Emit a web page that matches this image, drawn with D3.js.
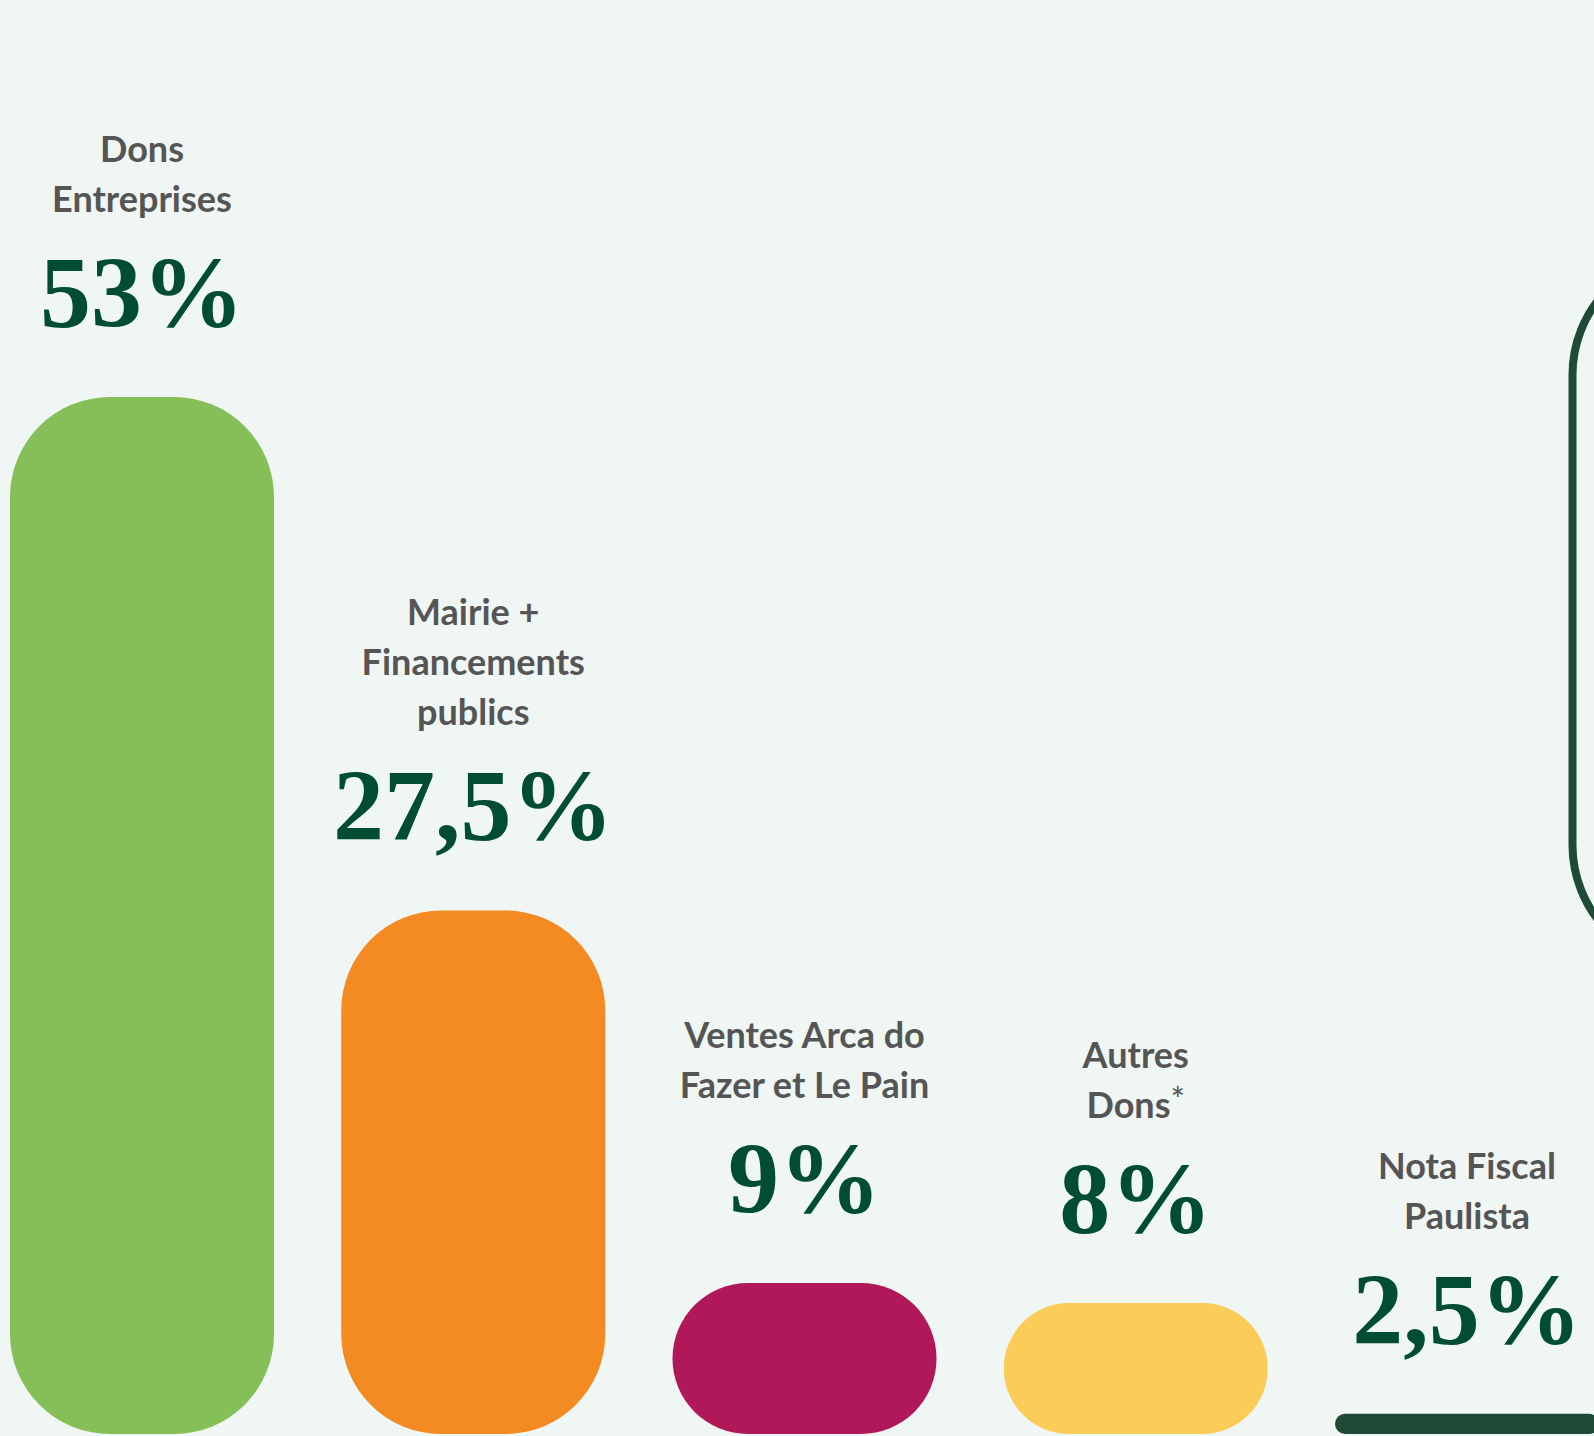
<!DOCTYPE html>
<html>
<head>
<meta charset="utf-8">
<script src="https://cdn.jsdelivr.net/npm/d3@7"></script>
<style>
  html, body { margin: 0; padding: 0; background: #eff6f3; }
  svg { display: block; }
</style>
</head>
<body>
<svg id="chart" width="1594" height="1436"></svg>
<script>
// ---- data ----
const categories = ["Dons Entreprises", "Mairie + Financements publics", "Ventes Arca do Fazer et Le Pain", "Autres Dons*", "Nota Fiscal Paulista"];
const labelLines = [
  ["Dons", "Entreprises"],
  ["Mairie +", "Financements", "publics"],
  ["Ventes Arca do", "Fazer et Le Pain"],
  ["Autres", "Dons*"],
  ["Nota Fiscal", "Paulista"]
];
const values = [53, 27.5, 9, 8, 2.5];
const valueLabels = ["53%", "27,5%", "9%", "8%", "2,5%"];

// ---- styles ----
const colors = ["#86bf57", "#f38a22", "#b0185a", "#fbcc58", "#1e4a36"];
const W = 1594, H = 1436;
const baseline = 1434, topY = 397;

const svg = d3.select("#chart");
svg.append("rect").attr("width", W).attr("height", H).attr("fill", "#eff6f3");

const x = d3.scaleBand()
  .domain(categories)
  .range([10, 1599])
  .paddingInner(0.203)
  .paddingOuter(0);

const y = d3.scaleLinear()
  .domain([1.5, 53])
  .range([baseline, topY]);

const data = categories.map((c, i) => ({ c, v: values[i], lines: labelLines[i], lab: valueLabels[i], col: colors[i] }));

// decorative outlined box at right edge
svg.append("rect")
  .attr("x", 1572.5).attr("y", 253)
  .attr("width", 400).attr("height", 714)
  .attr("rx", 122).attr("ry", 122)
  .attr("fill", "none")
  .attr("stroke", "#1f4a36")
  .attr("stroke-width", 8);

// bars
svg.selectAll("rect.bar").data(data).join("rect")
  .attr("class", "bar")
  .attr("x", d => x(d.c))
  .attr("y", d => y(d.v))
  .attr("width", x.bandwidth())
  .attr("height", d => baseline - y(d.v))
  .attr("rx", d => Math.min(100, (baseline - y(d.v)) / 2))
  .attr("ry", d => Math.min(100, (baseline - y(d.v)) / 2))
  .attr("fill", d => d.col);

// percent labels
svg.selectAll("text.pct").data(data).join("text")
  .attr("class", "pct")
  .attr("x", d => x(d.c) + x.bandwidth() / 2)
  .attr("y", d => y(d.v) - 70)
  .attr("text-anchor", "middle")
  .attr("font-family", "'Liberation Serif', serif")
  .attr("font-weight", 700)
  .attr("font-size", 102)
  .attr("fill", "#004d33")
  .text(d => d.lab);

// category labels
const lineH = 50;
const g = svg.selectAll("text.cat").data(data).join("text")
  .attr("class", "cat")
  .attr("text-anchor", "middle")
  .attr("font-family", "Lato, 'Noto Sans', sans-serif")
  .attr("font-weight", 700)
  .attr("font-size", 36)
  .attr("fill", "#555555");

g.each(function(d) {
  const t = d3.select(this);
  const cx = x(d.c) + x.bandwidth() / 2;
  const lastBase = y(d.v) - 70 - 115;
  const n = d.lines.length;
  d.lines.forEach((ln, j) => {
    const by = lastBase - (n - 1 - j) * lineH;
    const star = ln.endsWith("*");
    t.append("tspan").attr("x", cx).attr("y", by).text(star ? ln.slice(0, -1) : ln);
    if (star) {
      t.append("tspan")
        .attr("font-size", 34)
        .attr("font-weight", 400)
        .attr("dy", -6)
        .text("*");
    }
  });
});
</script>
</body>
</html>
